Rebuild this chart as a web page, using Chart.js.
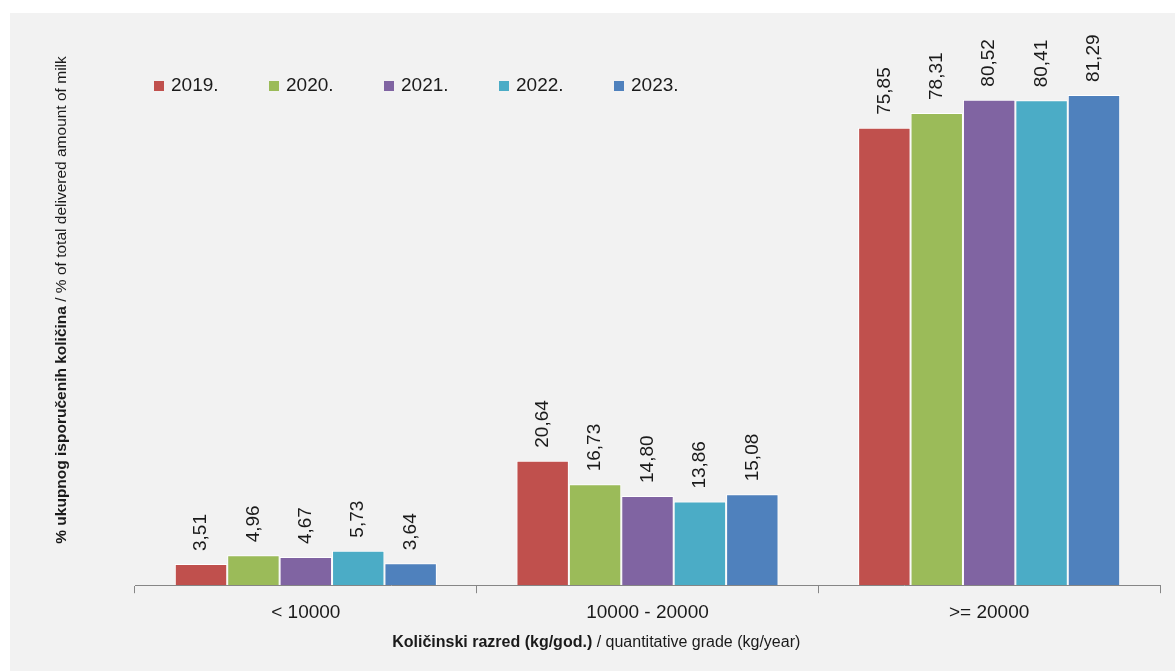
<!DOCTYPE html>
<html lang="hr">
  <head>
    <meta charset="UTF-8" />
    <title>Isporučene količine mlijeka</title>
    <style>
      html, body {
        margin: 0;
        background: #fff;
      }
      .panel {
        position: absolute;
        left: 10px;
        top: 13px;
        width: 1165px;
        height: 658px;
        background: #f2f2f2;
      }
    </style>
  </head>
  <body>
    <div class="panel">
      <canvas id="chart" width="1165" height="658"></canvas>
    </div>

    <script src="https://cdn.jsdelivr.net/npm/chart.js"></script>

    <script>
      const categories = ['< 10000', '10000 - 20000', '>= 20000'];
      const years = ['2019.', '2020.', '2021.', '2022.', '2023.'];
      const values2019 = [3.51, 20.64, 75.85];
      const values2020 = [4.96, 16.73, 78.31];
      const values2021 = [4.67, 14.8, 80.52];
      const values2022 = [5.73, 13.86, 80.41];
      const values2023 = [3.64, 15.08, 81.29];
      const colors = ['#c0504d', '#9bbb59', '#8064a2', '#4bacc6', '#4f81bd'];

      const FONT = '"Liberation Sans", Arial, sans-serif';
      const series = [values2019, values2020, values2021, values2022, values2023];

      // value labels, rotated, above each bar
      const valueLabels = {
        id: 'valueLabels',
        afterDatasetsDraw(chart) {
          const ctx = chart.ctx;
          ctx.save();
          ctx.font = '19px ' + FONT;
          ctx.fillStyle = '#1a1a1a';
          ctx.textAlign = 'left';
          ctx.textBaseline = 'middle';
          chart.data.datasets.forEach((ds, i) => {
            chart.getDatasetMeta(i).data.forEach((bar, j) => {
              const txt = ds.data[j].toFixed(2).replace('.', ',');
              ctx.save();
              ctx.translate(bar.x, bar.y - 13);
              ctx.rotate(-Math.PI / 2);
              ctx.fillText(txt, 0, 0);
              ctx.restore();
            });
          });
          ctx.restore();
        },
      };

      // legend sits inside the plot, top left
      const innerLegend = {
        id: 'innerLegend',
        afterDraw(chart) {
          const ctx = chart.ctx;
          const area = chart.chartArea;
          ctx.save();
          ctx.font = '19px ' + FONT;
          ctx.textBaseline = 'middle';
          ctx.textAlign = 'left';
          chart.data.datasets.forEach((ds, i) => {
            const x = area.left + 19 + i * 115;
            const y = 73;
            ctx.fillStyle = ds.backgroundColor;
            ctx.fillRect(x, y - 5, 10, 10);
            ctx.fillStyle = '#1a1a1a';
            ctx.fillText(ds.label, x + 17, y);
          });
          ctx.restore();
        },
      };

      function mixedText(ctx, bold, normal, size) {
        ctx.font = 'bold ' + size + 'px ' + FONT;
        const w1 = ctx.measureText(bold).width;
        ctx.font = size + 'px ' + FONT;
        const w2 = ctx.measureText(normal).width;
        const start = -(w1 + w2) / 2;
        ctx.textAlign = 'left';
        ctx.textBaseline = 'middle';
        ctx.font = 'bold ' + size + 'px ' + FONT;
        ctx.fillText(bold, start, 0);
        ctx.font = size + 'px ' + FONT;
        ctx.fillText(normal, start + w1, 0);
      }

      // axis titles: bold Croatian part + plain English part
      const axisTitles = {
        id: 'axisTitles',
        afterDraw(chart) {
          const ctx = chart.ctx;
          const area = chart.chartArea;
          ctx.save();
          ctx.fillStyle = '#1a1a1a';
          ctx.translate(area.left + 0.45 * (area.right - area.left), 630);
          mixedText(ctx, 'Količinski razred (kg/god.)', ' / quantitative grade (kg/year)', 16);
          ctx.restore();

          ctx.save();
          ctx.fillStyle = '#1a1a1a';
          ctx.translate(52, 287);
          ctx.rotate(-Math.PI / 2);
          mixedText(ctx, '% ukupnog isporučenih količina', ' / % of total delivered amount of milk', 15.5);
          ctx.restore();
        },
      };

      new Chart(document.getElementById('chart'), {
        type: 'bar',
        data: {
          labels: categories,
          datasets: years.map((y, i) => ({
            label: y,
            data: series[i],
            backgroundColor: colors[i],
            borderColor: '#ffffff',
            borderWidth: 1,
            barPercentage: 1,
            categoryPercentage: 0.767,
          })),
        },
        options: {
          responsive: false,
          animation: false,
          layout: {
            padding: { left: 125, right: 15, top: 29.5, bottom: 39 },
          },
          plugins: {
            legend: { display: false },
            tooltip: { enabled: false },
          },
          scales: {
            y: {
              display: false,
              min: 0,
              max: 90,
            },
            x: {
              grid: {
                drawOnChartArea: false,
                drawTicks: true,
                tickLength: 8,
                color: '#868686',
              },
              border: { display: true, color: '#868686', width: 1 },
              ticks: {
                padding: 8,
                color: '#1a1a1a',
                font: { family: FONT, size: 19 },
              },
            },
          },
        },
        plugins: [valueLabels, innerLegend, axisTitles],
      });
    </script>
  </body>
</html>
